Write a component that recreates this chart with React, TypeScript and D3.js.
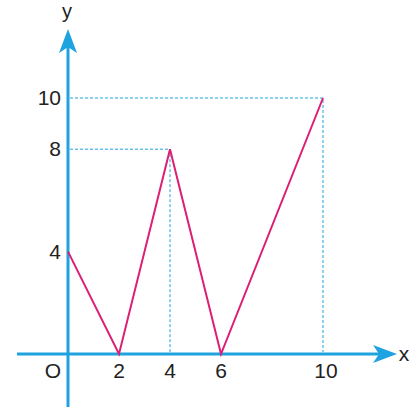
import React from 'react';
import * as d3 from 'd3';

// graph points (x, y)
const xs = [0, 2, 4, 6, 10];
const ys = [4, 0, 8, 0, 10];

// tick labels
const xTicks = [2, 4, 6, 10];
const yTicks = [4, 8, 10];
// points marked with dashed guide lines
const guides = [
  [4, 8],
  [10, 10],
];

const App = () => {
  const width = 413;
  const height = 409;

  const x = d3.scaleLinear().domain([0, 10]).range([68, 323]);
  const y = d3.scaleLinear().domain([0, 10]).range([354, 98]);

  const blue = '#1fa3e0';
  const pink = '#dc1f74';
  const font = 'Liberation Sans, Arial, sans-serif';

  const line = d3
    .line<number>()
    .x((d, i) => x(xs[i]))
    .y((d) => y(d));

  const x0 = x(0);
  const y0 = y(0);

  return (
    <svg
      width={width}
      height={height}
      style={{ position: 'absolute', left: 0, top: 0, background: '#fff' }}
    >
      {/* dashed guides */}
      {guides.map(([gx, gy], i) => (
        <path
          key={i}
          d={`M${x0 + 2},${y(gy)}H${x(gx)}V${y0 - 2}`}
          fill="none"
          stroke={blue}
          strokeWidth={1}
          strokeDasharray="3,2"
        />
      ))}

      {/* axes */}
      <line x1={17} y1={y0} x2={380} y2={y0} stroke={blue} strokeWidth={3} />
      <line x1={x0} y1={407} x2={x0} y2={46} stroke={blue} strokeWidth={3} />
      <path
        d={`M397,${y0} L373,${y0 - 9} L379,${y0} L373,${y0 + 9} Z`}
        fill={blue}
      />
      <path
        d={`M${x0},29 L${x0 - 9},53 L${x0},47 L${x0 + 9},53 Z`}
        fill={blue}
      />

      {/* graph */}
      <path d={line(ys) || ''} fill="none" stroke={pink} strokeWidth={2} strokeLinejoin="miter" />

      {/* labels */}
      <g fontFamily={font} fontSize={21} fill="#222">
        {xTicks.map((t) => (
          <text key={t} x={t === 10 ? x(t) + 3 : x(t)} y={y0 + 24} textAnchor="middle">
            {t}
          </text>
        ))}
        <text x={53} y={y0 + 24} textAnchor="middle">
          O
        </text>
        {yTicks.map((t) => (
          <text key={t} x={61} y={y(t) + 7} textAnchor="end">
            {t}
          </text>
        ))}
        <text x={404} y={y0 + 7} textAnchor="middle">
          x
        </text>
        <text x={67} y={18} textAnchor="middle" fontSize={20}>
          y
        </text>
      </g>
    </svg>
  );
};

export default App;
